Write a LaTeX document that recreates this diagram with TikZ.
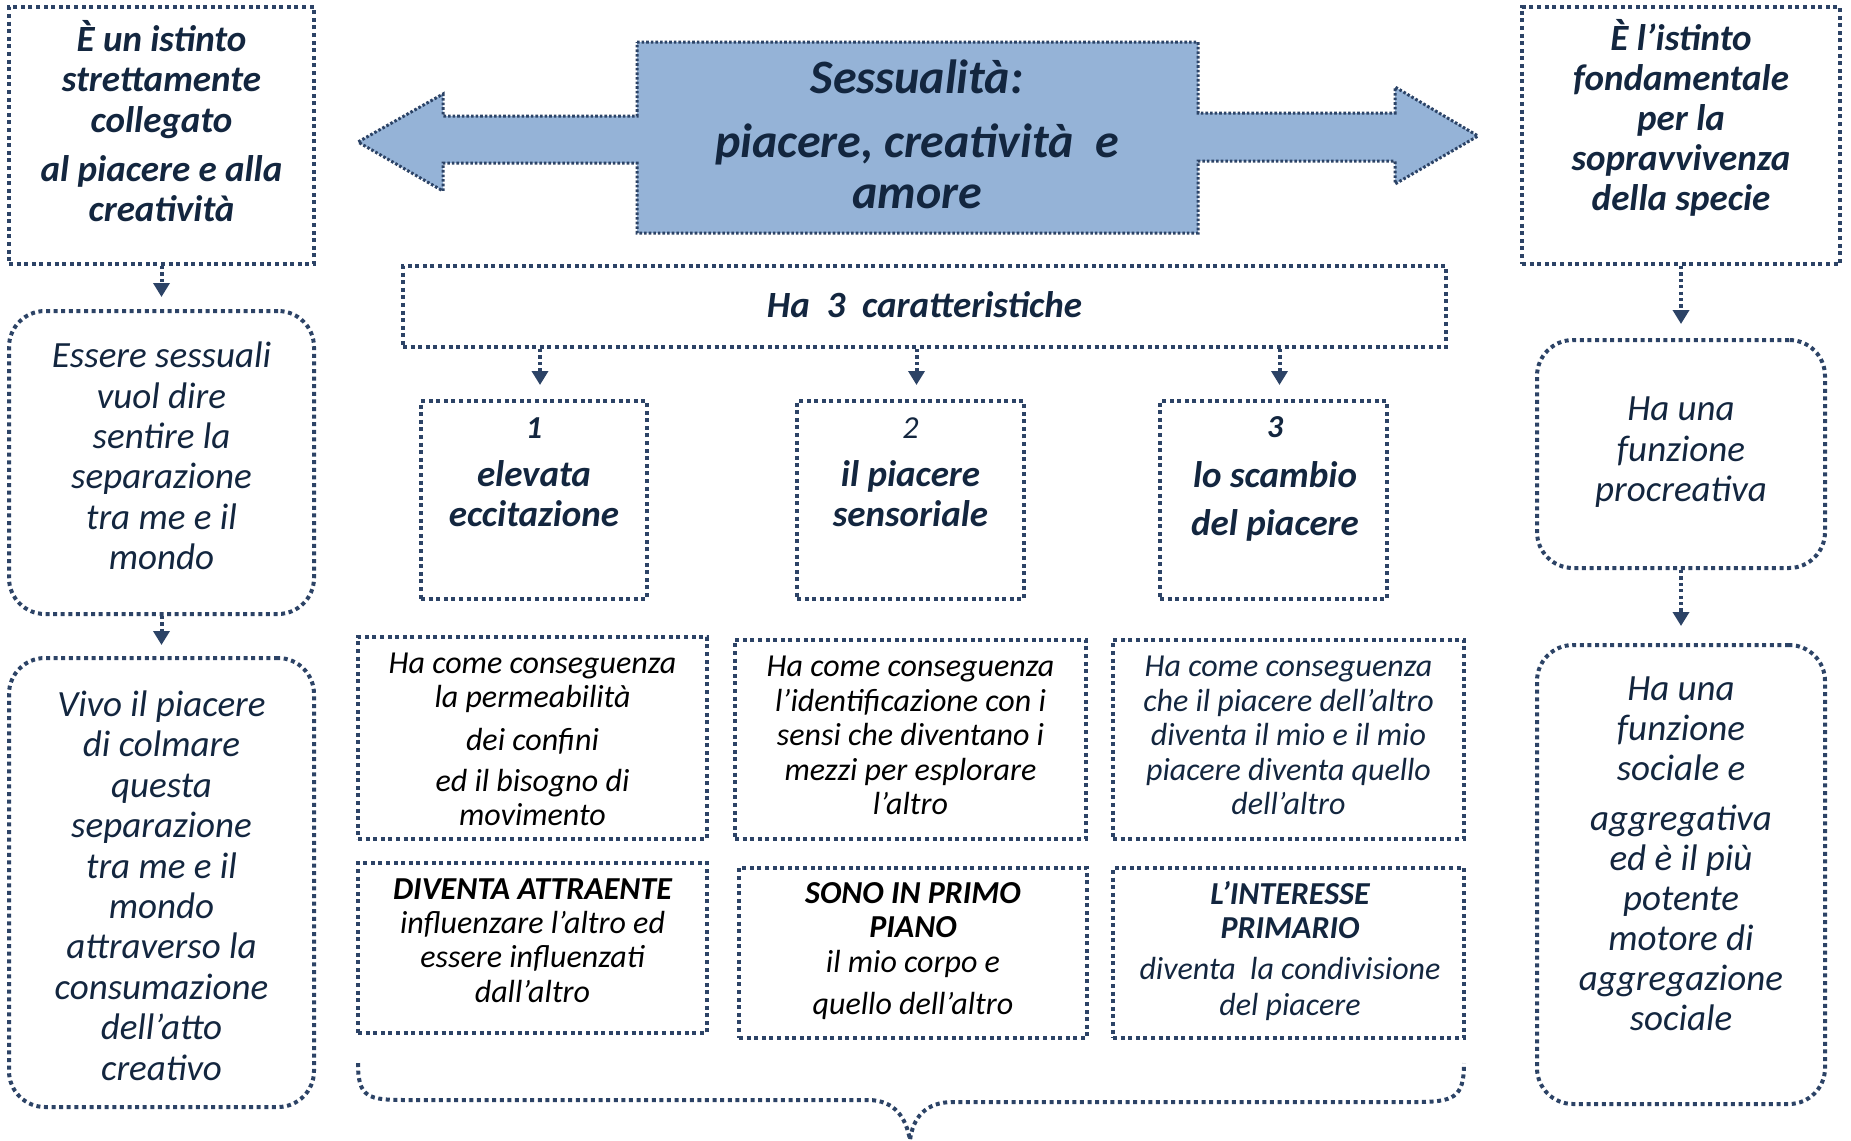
\documentclass[tikz,border=0pt]{standalone}
\usepackage{fontspec}
\setmainfont{Carlito}
\usetikzlibrary{arrows.meta}
\definecolor{navy}{HTML}{13263F}
\definecolor{rim}{HTML}{2C4366}
\definecolor{sky}{HTML}{95B3D7}

\tikzset{
  dotbox/.style={draw=rim, line width=2pt, dash pattern=on 2pt off 1.8pt, inner sep=0pt},
  roundbox/.style={dotbox, rounded corners=18pt},
  txt/.style={text=navy, align=center, inner sep=0pt, font=\itshape\fontsize{18.5}{20.2}\selectfont},
  boldtxt/.style={txt, font=\bfseries\itshape\fontsize{18.5}{20.3}\selectfont},
  smalltxt/.style={txt, font=\itshape\fontsize{16}{17.2}\selectfont},
  link/.style={draw=rim, line width=2pt, dash pattern=on 1.6pt off 1.6pt, -{Triangle[width=8pt,length=7pt]}}
}

\begin{document}
\begin{tikzpicture}[x=0.5pt, y=-0.5pt]
    \useasboundingbox (0,0) rectangle (1851,1140);

    % Central box with the two arrows
    \draw[fill=sky, draw=rim, line width=1.5pt, dash pattern=on 1.3pt off 1pt]
      (637,42) -- (1198,42) -- (1198,113) -- (1395,113) -- (1395,87) -- (1478,136)
      -- (1395,184) -- (1395,161) -- (1198,161) -- (1198,233) -- (637,233) -- (637,163)
      -- (443,163) -- (443,191) -- (358,142) -- (443,94) -- (443,116) -- (637,116) -- cycle;
    \node[text=navy, align=center, font=\bfseries\itshape\fontsize{24}{25.5}\selectfont] (title) at (917,134)
      {Sessualità:\\[6.5pt]piacere, creatività\ \ e\\amore};

    % Left column
    \node[dotbox, minimum width=152.5pt, minimum height=128.5pt] (l1) at (161.5,135.5) {};
    \node[boldtxt] (l1t) at (161.5,121) {È un istinto\\strettamente\\collegato\\[4pt]al piacere e alla\\creatività};
    \node[roundbox, minimum width=152.5pt, minimum height=151.5pt] (l2) at (161.5,462.5) {};
    \node[txt] (l2t) at (161.5,456) {Essere sessuali\\vuol dire\\sentire la\\separazione\\tra me e il\\mondo};
    \node[roundbox, minimum width=152.5pt, minimum height=224.5pt] (l3) at (161.5,882.5) {};
    \node[txt] (l3t) at (161.5,885.5) {Vivo il piacere\\di colmare\\questa\\separazione\\tra me e il\\mondo\\attraverso la\\consumazione\\dell’atto\\creativo};
    \draw[link, shorten >=6pt] (l1) -- (l2);
    \draw[link, shorten >=5.5pt] (l2) -- (l3);

    % Right column
    \node[dotbox, minimum width=159pt, minimum height=128.5pt] (r1) at (1681,135.5) {};
    \node[boldtxt, font=\bfseries\itshape\fontsize{18.5}{20}\selectfont] (r1t) at (1681,118) {È l’istinto\\fondamentale\\per la\\sopravvivenza\\della specie};
    \node[roundbox, minimum width=144pt, minimum height=114pt] (r2) at (1681,454) {};
    \node[txt] (r2t) at (1681,452.5) {Ha una\\funzione\\procreativa};
    \node[roundbox, minimum width=144pt, minimum height=229.5pt] (r3) at (1681,874.5) {};
    \node[txt, font=\itshape\fontsize{18.5}{20}\selectfont] (r3t) at (1681,853.5) {Ha una\\funzione\\sociale e\\[5pt]aggregativa\\ed è il più\\potente\\motore di\\aggregazione\\sociale};
    \draw[link, shorten >=7pt] (r1) -- (r2);
    \draw[link, shorten >=8.5pt] (r2) -- (r3);

    % Ha 3 caratteristiche
    \node[dotbox, minimum width=521.5pt, minimum height=40.5pt] (bar) at (924.5,306.5) {};
    \node[boldtxt, font=\bfseries\itshape\fontsize{18.5}{20}\selectfont] (bart) at (924.5,305) {Ha\ \ 3\ \ caratteristiche};

    \node[dotbox, minimum width=113pt, minimum height=99pt] (k1) at (534,500) {};
    \node[dotbox, minimum width=113.5pt, minimum height=99pt] (k2) at (910.5,500) {};
    \node[dotbox, minimum width=113.5pt, minimum height=99pt] (k3) at (1273.5,500) {};
    \node[boldtxt, font=\bfseries\itshape\fontsize{18.5}{20}\selectfont] (k1t) at (534,472)
      {{\fontsize{16}{20}\selectfont 1}\\[4pt]elevata\\eccitazione};
    \node[boldtxt, font=\bfseries\itshape\fontsize{18.5}{20}\selectfont] (k2t) at (910.5,472)
      {{\mdseries\fontsize{16}{20}\selectfont 2}\\[4pt]il piacere\\sensoriale};
    \node[boldtxt, font=\bfseries\itshape\fontsize{18.5}{24}\selectfont] (k3t) at (1275,479)
      {{\fontsize{16}{20}\selectfont 3}\\[1pt]lo scambio\\del piacere};
    \foreach \k in {k1,k2,k3}
        \draw[link, shorten >=7pt] ([xshift=3pt]bar.south -| \k) -- ([xshift=3pt]\k.north);

    % Consequences
    \node[dotbox, minimum width=174.5pt, minimum height=101pt] (c1) at (532.5,738) {};
    \node[dotbox, minimum width=175.5pt, minimum height=99.5pt] (c2) at (910.5,739.5) {};
    \node[dotbox, minimum width=175.5pt, minimum height=99.5pt] (c3) at (1288.5,739.5) {};
    \node[smalltxt, text=black, font=\itshape\fontsize{16}{17}\selectfont] (c1t) at (532.5,739)
      {Ha come conseguenza\\la permeabilità\\[4.5pt]dei confini\\[3.5pt]ed il bisogno di\\movimento};
    \node[smalltxt, text=black] (c2t) at (910.5,735.5)
      {Ha come conseguenza\\l’identificazione con i\\sensi che diventano i\\mezzi per esplorare\\l’altro};
    \node[smalltxt] (c3t) at (1288.5,735.5)
      {Ha come conseguenza\\che il piacere dell’altro\\diventa il mio e il mio\\piacere diventa quello\\dell’altro};

    \node[dotbox, minimum width=174.5pt, minimum height=85pt] (d1) at (532.5,948) {};
    \node[dotbox, minimum width=174pt, minimum height=85pt] (d2) at (913,953) {};
    \node[dotbox, minimum width=175.5pt, minimum height=85pt] (d3) at (1288.5,953) {};
    \node[smalltxt, text=black] (d1t) at (532.5,940.5)
      {\textbf{DIVENTA ATTRAENTE}\\influenzare l’altro ed\\essere influenzati\\dall’altro};
    \node[smalltxt, text=black, font=\itshape\fontsize{16}{17}\selectfont] (d2t) at (913,951)
      {\textbf{SONO IN PRIMO}\\\textbf{PIANO}\\[0.5pt]il mio corpo e\\[4pt]quello dell’altro};
    \node[smalltxt, font=\itshape\fontsize{16}{17}\selectfont] (d3t) at (1290,951)
      {\textbf{L’INTERESSE}\\\textbf{PRIMARIO}\\[3.5pt]diventa\ \ la condivisione\\[1pt]del piacere};

    % Brace under the middle boxes
    \draw[draw=rim, line width=2pt, dash pattern=on 2pt off 1.8pt]
      (358,1063) .. controls (358,1098) and (368,1100) .. (407,1100) -- (868,1100)
      .. controls (895,1100) and (906,1118) .. (910,1140)
      .. controls (913,1118) and (925,1102) .. (953,1102) -- (1415,1102)
      .. controls (1454,1102) and (1464,1098) .. (1464,1063);
\end{tikzpicture}
\end{document}
